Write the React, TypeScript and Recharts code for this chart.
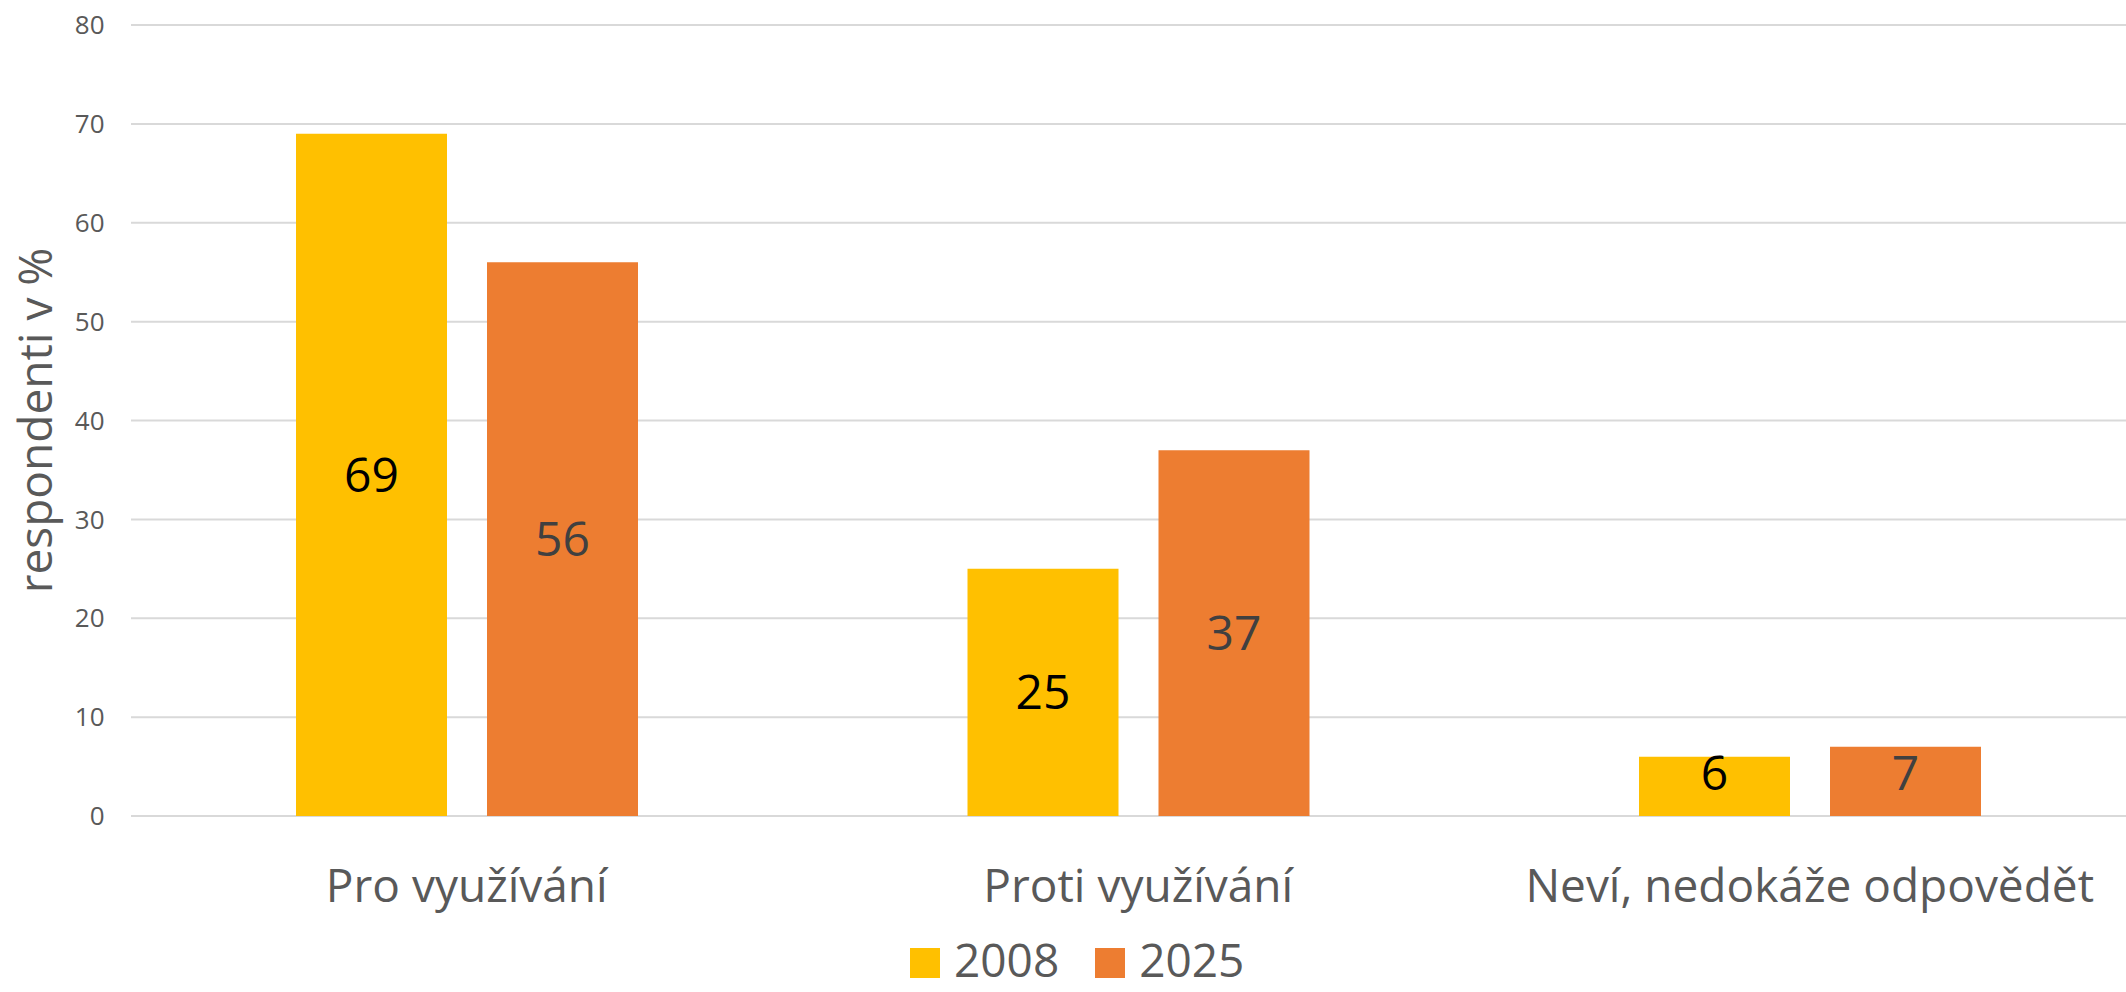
import React from 'react';
import { BarChart, Bar, XAxis, YAxis, CartesianGrid, Legend, LabelList } from 'recharts';

const categories = ['Pro využívání', 'Proti využívání', 'Neví, nedokáže odpovědět'];
const values2008 = [69, 25, 6];
const values2025 = [56, 37, 7];
const yTicks = [0, 10, 20, 30, 40, 50, 60, 70, 80];
const seriesNames = ['2008', '2025'];
const yAxisTitle = 'respondenti v %';

const data = categories.map((c, i) => ({ name: c, s2008: values2008[i], s2025: values2025[i] }));

const FONT = '"Open Sans", sans-serif';

const makeLabel = (color: string) => (props: any) => {
  const { x, y, width, height, value } = props;
  const cx = Number(x) + Number(width) / 2;
  const cy = Math.min(Number(y) + Number(height) / 2, Number(y) + Number(height) - 43);
  return (
    <text x={cx} y={cy} dy="0.355em" textAnchor="middle" fill={color} fontSize={48} fontFamily={FONT}>
      {value}
    </text>
  );
};

const renderLegend = (props: any) => {
  const { payload } = props;
  return (
    <div style={{ display: 'flex', flexDirection: 'row', alignItems: 'flex-start', height: 41 }}>
      {payload.map((p: any, i: number) => (
        <div key={i} style={{ display: 'flex', alignItems: 'flex-start', marginRight: i === 0 ? 36 : 0 }}>
          <div style={{ width: 30, height: 30, background: p.color, marginTop: 8.5, marginRight: 14 }} />
          <span style={{ fontFamily: FONT, fontSize: 46, lineHeight: '41px', height: 41, color: '#595959' }}>{p.value}</span>
        </div>
      ))}
    </div>
  );
};

const YTitle = (props: any) => {
  const { viewBox } = props;
  const cy = viewBox.y + viewBox.height / 2;
  return (
    <text
      x={52}
      y={cy}
      transform={`rotate(-90, 52, ${cy})`}
      textAnchor="middle"
      fill="#595959"
      fontSize={46}
      fontFamily={FONT}
    >
      {yAxisTitle}
    </text>
  );
};

export default function App() {
  return (
    <div style={{ position: 'fixed', left: 0, top: 0, width: 2126, height: 992, overflow: 'hidden', background: '#fff' }}>
      <BarChart
        width={2160}
        height={992}
        data={data}
        margin={{ top: 25, right: 14.5, left: 0, bottom: 31 }}
        barSize={151}
        barGap={40}
      >
        <CartesianGrid vertical={false} stroke="#d9d9d9" strokeWidth={2} />
        <XAxis
          dataKey="name"
          axisLine={false}
          tickLine={false}
          tickSize={0}
          tickMargin={53}
          height={104}
          interval={0}
          tick={{ fontSize: 46, fontFamily: FONT, fill: '#595959' }}
        />
        <YAxis
          domain={[0, 80]}
          ticks={yTicks}
          width={131}
          axisLine={false}
          tickLine={false}
          tickSize={0}
          tickMargin={26.5}
          tick={{ fontSize: 26, fontFamily: FONT, fill: '#595959' }}
          label={<YTitle />}
        />
        <Legend
          verticalAlign="bottom"
          content={renderLegend}
          wrapperStyle={{ position: 'absolute', left: 910, top: 939, width: 400, height: 41 }}
        />
        <Bar dataKey="s2008" name={seriesNames[0]} fill="#FFC000" isAnimationActive={false}>
          <LabelList dataKey="s2008" content={makeLabel('#000000')} />
        </Bar>
        <Bar dataKey="s2025" name={seriesNames[1]} fill="#ED7D31" isAnimationActive={false}>
          <LabelList dataKey="s2025" content={makeLabel('#404040')} />
        </Bar>
      </BarChart>
    </div>
  );
}
